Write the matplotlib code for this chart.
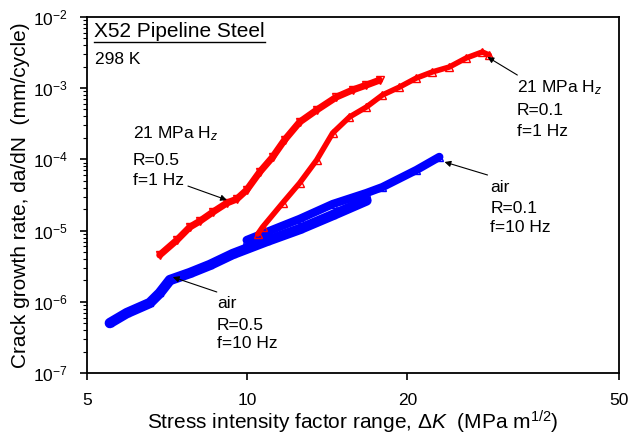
import matplotlib
matplotlib.use('Agg')
import matplotlib.pyplot as plt
from matplotlib.ticker import FixedLocator, NullFormatter, LogLocator

plt.rcParams['font.family'] = ['Liberation Sans', 'DejaVu Sans']
plt.rcParams['mathtext.fontset'] = 'custom'
plt.rcParams['mathtext.rm'] = 'Liberation Sans'
plt.rcParams['mathtext.it'] = 'Liberation Sans:italic'

# 21 MPa H2, R=0.5, f=1 Hz
h2_r05_dk = [6.85, 7.38, 7.80, 8.15, 8.62, 9.16, 9.56, 9.98, 10.56, 11.17,
             11.76, 12.55, 13.51, 14.72, 15.78, 16.76, 17.74]
h2_r05_rate = [4.55e-6, 7.38e-6, 1.12e-5, 1.36e-5, 1.82e-5, 2.44e-5, 2.77e-5,
               3.71e-5, 6.64e-5, 1.08e-4, 1.87e-4, 3.33e-4, 4.91e-4, 7.48e-4,
               9.38e-4, 1.10e-3, 1.29e-3]

# 21 MPa H2, R=0.1, f=1 Hz
h2_r01_dk = [10.47, 10.69, 11.66, 12.55, 13.51, 14.48, 15.57, 16.76, 17.96,
             19.33, 20.80, 22.29, 23.99, 25.82, 27.67, 28.5]
h2_r01_rate = [8.96e-6, 1.12e-5, 2.44e-5, 4.65e-5, 9.77e-5, 2.34e-4, 3.92e-4,
               5.42e-4, 7.98e-4, 1.03e-3, 1.38e-3, 1.68e-3, 1.97e-3, 2.64e-3,
               3.20e-3, 2.90e-3]

# air, R=0.5, f=10 Hz
air_r05_dk = [5.52, 5.94, 6.56, 6.85, 7.16, 7.80, 8.51, 9.40, 10.88, 12.55,
              14.48, 16.76]
air_r05_rate = [5.06e-7, 6.98e-7, 9.66e-7, 1.33e-6, 2.03e-6, 2.54e-6, 3.30e-6,
                4.70e-6, 7.14e-6, 1.05e-5, 1.65e-5, 2.65e-5]

# air, R=0.1, f=10 Hz
air_r01_dk = [9.98, 10.88, 12.55, 14.48, 16.76, 17.96, 20.80, 22.97]
air_r01_rate = [7.38e-6, 9.55e-6, 1.46e-5, 2.36e-5, 3.37e-5, 4.08e-5,
                7.08e-5, 1.08e-4]

x_ticks = [5, 10, 20, 50]


def band(ax, x, y, color, marker, lw, ms):
    ax.plot(x, y, '-', color=color, lw=lw, solid_capstyle='round',
            solid_joinstyle='round')
    ax.plot(x, y, linestyle='none', marker=marker, ms=ms, mfc='none',
            mec=color, mew=1.0)


def label(ax, xy, xytext, lines, start):
    ax.annotate('', xy=xy, xytext=xytext, xycoords='data', textcoords='data',
                arrowprops=dict(arrowstyle='-|>', color='black', lw=0.8,
                                mutation_scale=9, shrinkA=0, shrinkB=0))
    fx, fy = start
    for txt, dy in lines:
        ax.text(fx, fy - dy, txt, transform=ax.transAxes, fontsize=12.5,
                ha='left', va='baseline')


fig = plt.figure(figsize=(6.28, 4.37), dpi=100)
ax = fig.add_axes([0.1385, 0.1458, 0.8472, 0.8160])

band(ax, air_r05_dk, air_r05_rate, '#0000ff', 's', 7.5, 5)
band(ax, air_r01_dk, air_r01_rate, '#0000ff', '^', 6.0, 6)
band(ax, h2_r05_dk, h2_r05_rate, '#ff0000', 'v', 5.0, 6)
band(ax, h2_r01_dk, h2_r01_rate, '#ff0000', '^', 4.0, 6)

ax.set_xscale('log')
ax.set_yscale('log')
ax.set_xlim(5, 50)
ax.set_ylim(1e-7, 1e-2)
ax.xaxis.set_major_locator(FixedLocator(x_ticks))
ax.set_xticklabels([str(t) for t in x_ticks])
ax.xaxis.set_minor_locator(FixedLocator([]))
ax.xaxis.set_minor_formatter(NullFormatter())
ax.yaxis.set_major_locator(LogLocator(base=10, numticks=10))
ax.yaxis.set_minor_locator(LogLocator(base=10, subs=range(2, 10), numticks=10))
ax.yaxis.set_minor_formatter(NullFormatter())
ax.tick_params(axis='x', which='major', direction='out', length=5,
               width=1.2, labelsize=12.5, pad=9)
ax.tick_params(axis='y', which='major', direction='out', length=5,
               width=1.2, labelsize=12.5, pad=9)
ax.tick_params(axis='y', which='minor', direction='out', length=3, width=0.8)
for s in ax.spines.values():
    s.set_linewidth(1.3)

ax.set_xlabel('Stress intensity factor range, Δ$K$  (MPa m$^{1/2}$)',
              fontsize=15, labelpad=1)
ax.set_ylabel('Crack growth rate, da/dN  (mm/cycle)', fontsize=15,
              labelpad=2)

title = ax.text(0.013, 0.944, 'X52 Pipeline Steel', transform=ax.transAxes,
                fontsize=15, ha='left', va='baseline')
ax.text(0.015, 0.867, '298 K', transform=ax.transAxes, fontsize=12.5,
        ha='left', va='baseline')

# underline the title using its drawn extent
fig.canvas.draw()
bb = title.get_window_extent().transformed(ax.transAxes.inverted())
ax.plot([bb.x0, bb.x1], [0.930, 0.930], color='black', lw=1.0,
        transform=ax.transAxes, clip_on=False)

label(ax, (9.16, 2.69e-5), (7.74, 4.22e-5),
      [('21 MPa H$_z$', 0.0), ('R=0.5', 0.076), ('f=1 Hz', 0.132)],
      (0.0865, 0.660))
label(ax, (28.3, 2.72e-3), (32.2, 1.52e-3),
      [('21 MPa H$_z$', 0.0), ('R=0.1', 0.064), ('f=1 Hz', 0.124)],
      (0.808, 0.789))
label(ax, (23.5, 9.17e-5), (28.3, 6.03e-5),
      [('air', 0.0), ('R=0.1', 0.059), ('f=10 Hz', 0.112)],
      (0.758, 0.508))
label(ax, (7.25, 2.23e-6), (8.77, 1.38e-6),
      [('air', 0.0), ('R=0.5', 0.061), ('f=10 Hz', 0.112)],
      (0.244, 0.183))

fig.savefig('out.png', dpi=100)
